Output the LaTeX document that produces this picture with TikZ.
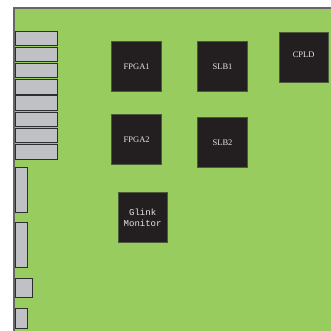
\documentclass[tikz,border=0pt]{standalone}
\usepackage{fontspec}
\setmainfont{Liberation Serif}
\setmonofont{Liberation Mono}
\definecolor{board}{HTML}{99CC5F}
\definecolor{chip}{HTML}{231F20}
\definecolor{chipedge}{HTML}{4A5A3A}
\definecolor{conn}{HTML}{C0C1C5}
\definecolor{connedge}{HTML}{2E2E2E}
\definecolor{txt}{HTML}{E6E6E6}
\begin{document}
\begin{tikzpicture}[x=1pt,y=-1pt,
  chipbox/.style={draw=chipedge,line width=0.6pt,fill=chip,text=txt,font=\fontsize{8.5}{9}\selectfont},
  connbox/.style={draw=connedge,line width=0.8pt,fill=conn}]
\useasboundingbox (0,0) rectangle (331,331);
\fill[white] (0,0) rectangle (331,331);
\fill[board] (14,8) rectangle (331,331);
\draw[gray!80!black,line width=1.2pt] (14,331) -- (14,8) -- (331,8);
% left connectors
\foreach \i in {0,...,7} {
  \draw[connbox] (15.5,31+\i*16.2) rectangle (57.5,45.5+\i*16.2);
}
\draw[connbox] (15.5,167.5) rectangle (27.5,212.5);
\draw[connbox] (15.5,222.5) rectangle (27.5,267.5);
\draw[connbox] (15.5,278) rectangle (32.5,297.5);
\draw[connbox] (15.5,308.5) rectangle (27.5,328.5);
% chips
\draw[chipbox] (111.7,41.7) rectangle (161.7,91.7) node[midway] (fpga1) {FPGA1};
\draw[chipbox] (111.7,114.3) rectangle (161.7,164.3) node[midway] (fpga2) {FPGA2};
\draw[chipbox] (197.7,41.7) rectangle (247.3,91.7) node[midway] (slb1) {SLB1};
\draw[chipbox] (197.7,117.7) rectangle (247.3,167.7) node[midway] (slb2) {SLB2};
\draw[chipbox] (279,32) rectangle (328.3,82) node[midway,yshift=2pt] (cpld) {CPLD};
\draw[chipbox] (118,192.3) rectangle (167.3,242.3) node[midway,align=center,font=\ttfamily\fontsize{9}{11}\selectfont] (glink) {Glink\\Monitor};
\end{tikzpicture}
\end{document}
